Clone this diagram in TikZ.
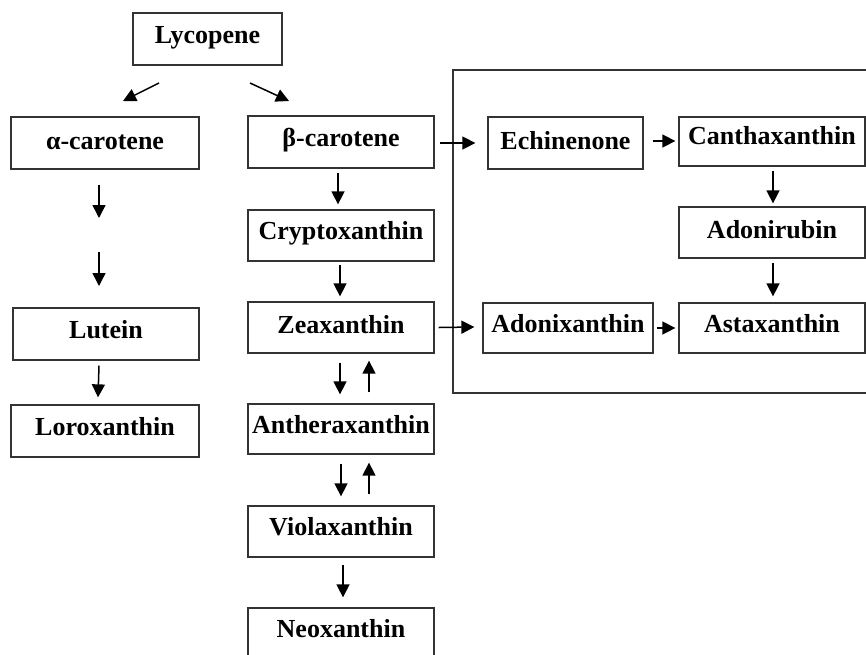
\documentclass[tikz,border=0pt]{standalone}
\usepackage{fontspec}
\setmainfont{Liberation Serif}
\usetikzlibrary{arrows.meta}
\begin{document}
\begin{tikzpicture}[x=1pt,y=-1pt,
  box/.style={draw=black!80, line width=1.3pt, rectangle, inner sep=0pt,
    minimum width=186pt, minimum height=51pt, text height=14pt, text depth=5pt,
    font=\fontsize{26}{29}\selectfont\bfseries},
  arr/.style={draw=black, line width=1.5pt, -{Triangle[length=13pt,width=13pt]}}]
\useasboundingbox (0,0) rectangle (866,654);
\clip (0,0) rectangle (866,654);
\fill[white] (0,0) rectangle (866,654);
% left and central columns
\node[box, minimum width=149pt, minimum height=52pt] (lyc) at (207.5,39) {Lycopene};
\node[box, minimum width=188pt, minimum height=52pt, text height=15pt, text depth=3pt] (alp) at (105,143) {α-carotene};
\node[box, minimum height=52pt] (bet) at (341,142) {β-carotene};
\node[box, text height=13pt, text depth=6pt] (cry) at (341,235.5) {Cryptoxanthin};
\node[box, minimum height=52pt] (lut) at (106,334) {Lutein};
\node[box, minimum width=188pt, minimum height=52pt] (lor) at (105,431) {Loroxanthin};
\node[box, text height=14pt, text depth=3pt] (zea) at (341,327.5) {Zeaxanthin};
\node[box, minimum height=50pt] (ant) at (341,429) {Antheraxanthin};
\node[box, text height=13pt, text depth=6pt] (vio) at (341,531.5) {Violaxanthin};
\node[box, text height=13pt, text depth=6pt] (neo) at (341,633.5) {Neoxanthin};
% framed block
\draw[black!80, line width=1.3pt] (453,70) rectangle (880,393);
\node[box, minimum width=155pt, minimum height=52pt, text height=15pt, text depth=3pt] (ech) at (565.5,143) {Echinenone};
\node[box, minimum height=49pt, text height=12pt, text depth=7pt] (can) at (772,141.5) {Canthaxanthin};
\node[box, text height=14pt, text depth=3pt] (adr) at (772,232.5) {Adonirubin};
\node[box, minimum width=170pt, minimum height=50pt, text height=13pt, text depth=5pt] (adx) at (568,328) {Adonixanthin};
\node[box, minimum height=50pt, text height=13pt, text depth=5pt] (ast) at (772,328) {Astaxanthin};
% free arrow ends
\coordinate (l1s) at (159,83); \coordinate (l1e) at (123,101);
\coordinate (l2s) at (250,83); \coordinate (l2e) at (289,101);
\coordinate (a1s) at (99,185); \coordinate (a1e) at (99,218);
\coordinate (a2s) at (99,252); \coordinate (a2e) at (99,286);
\draw[arr] (l1s) -- (l1e);
\draw[arr] (l2s) -- (l2e);
\draw[arr] (a1s) -- (a1e);
\draw[arr] (a2s) -- (a2e);
\draw[arr] ([shift={(-7,5)}]lut.south) -- ([shift={(-7,-7)}]lor.north);
\draw[arr] ([shift={(-3,4)}]bet.south) -- ([shift={(-3,-5)}]cry.north);
\draw[arr] ([shift={(-1,3)}]cry.south) -- ([shift={(-1,-5)}]zea.north);
\draw[arr] ([shift={(-1,9)}]zea.south) -- ([shift={(-1,-9)}]ant.north);
\draw[arr] ([shift={(28,-11)}]ant.north) -- ([shift={(28,7)}]zea.south);
\draw[arr] ([shift={(0,9)}]ant.south) -- ([shift={(0,-9)}]vio.north);
\draw[arr] ([shift={(28,-11)}]vio.north) -- ([shift={(28,8)}]ant.south);
\draw[arr] ([shift={(2,7)}]vio.south) -- ([shift={(2,-10)}]neo.north);
\draw[arr] ([shift={(5,1)}]bet.east) -- ([shift={(-12,0)}]ech.west);
\draw[arr] ([shift={(9,-2)}]ech.east) -- ([shift={(-3,-0.5)}]can.west);
\draw[arr] ([shift={(1,4)}]can.south) -- ([shift={(1,-3)}]adr.north);
\draw[arr] ([shift={(1,4)}]adr.south) -- ([shift={(1,-6)}]ast.north);
\draw[arr] ([shift={(4,0)}]zea.east) -- ([shift={(-8,-1)}]adx.west);
\draw[arr] ([shift={(3,0)}]adx.east) -- ([shift={(-3,0)}]ast.west);
\end{tikzpicture}
\end{document}
